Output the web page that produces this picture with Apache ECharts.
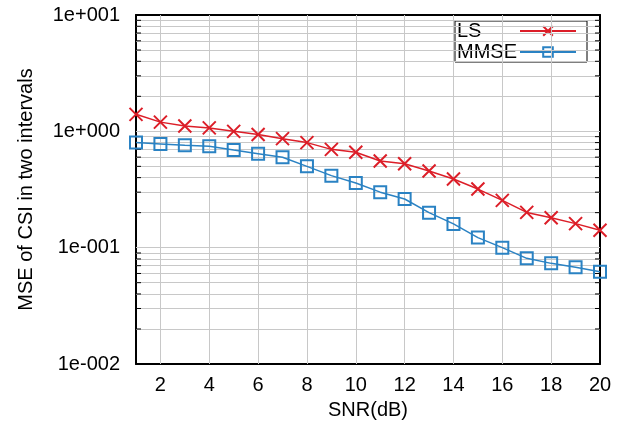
<!DOCTYPE html>
<html>
<head>
<meta charset="utf-8">
<script src="https://cdn.jsdelivr.net/npm/echarts@6/dist/echarts.min.js"></script>
<style>
  html, body { margin: 0; padding: 0; background: #fff; }
  #chart { width: 625px; height: 429px; }
</style>
</head>
<body>
<div id="chart"></div>
<script>
// SNR sweep (dB) and the MSE of the CSI estimate for each estimator
const snrDb = [1, 2, 3, 4, 5, 6, 7, 8, 9, 10, 11, 12, 13, 14, 15, 16, 17, 18, 19, 20];
const lsMse = [1.40, 1.20, 1.11, 1.07, 1.00, 0.94, 0.865, 0.80, 0.70, 0.66,
               0.556, 0.527, 0.456, 0.389, 0.319, 0.255, 0.201, 0.181, 0.161, 0.141];
const mmseMse = [0.80, 0.778, 0.758, 0.743, 0.69, 0.643, 0.598, 0.50, 0.416, 0.36,
                 0.30, 0.262, 0.20, 0.16, 0.122, 0.10, 0.081, 0.0733, 0.068, 0.0622];

// tick positions
const xTicks = [2, 4, 6, 8, 10, 12, 14, 16, 18, 20];
const yDecades = [0.01, 0.1, 1, 10];
const yMinor = [];
yDecades.slice(0, 3).forEach(d => {
  for (let m = 2; m <= 9; m++) yMinor.push(+(d * m).toPrecision(3));
});

const FONT = 'Liberation Sans';
const RED = '#dc1e28';
const BLUE = '#2a82c3';

const expLabel = v => {
  const e = Math.round(Math.log10(v));
  return '1e' + (e < 0 ? '-' : '+') + String(Math.abs(e)).padStart(3, '0');
};

const chart = echarts.init(document.getElementById('chart'), null, { renderer: 'canvas' });

// interior grid lines only; the frame itself is drawn by the axes
const gridLines = []
  .concat(xTicks.slice(0, -1).map(v => ({ xAxis: v })))
  .concat(yDecades.slice(1, -1).concat(yMinor).map(v => ({ yAxis: v })));

const frameLine = { onZero: false, lineStyle: { color: '#000', width: 2 } };

chart.setOption({
  animation: false,
  backgroundColor: '#fff',
  textStyle: { fontFamily: FONT },
  grid: { left: 136, right: 25, top: 15, bottom: 65, containLabel: false },
  legend: {
    data: ['LS', 'MMSE'],
    orient: 'vertical',
    right: 38,
    top: 21,
    align: 'right',
    itemWidth: 56,
    itemHeight: 12,
    itemGap: 1,
    padding: [0, 10, 0, 2],
    borderColor: '#000',
    borderWidth: 1,
    backgroundColor: '#fff',
    formatter: name => '{t|' + name + '}',
    textStyle: {
      fontFamily: FONT, fontSize: 20, color: '#000',
      rich: { t: { fontFamily: FONT, fontSize: 20, color: '#000', width: 58, align: 'left', lineHeight: 20 } }
    }
  },
  xAxis: [{
    type: 'value',
    min: 1,
    max: 20,
    name: 'SNR(dB)',
    nameLocation: 'middle',
    nameGap: 36,
    nameTextStyle: { fontFamily: FONT, fontSize: 20, color: '#000' },
    axisLine: frameLine,
    axisTick: { inside: true, length: 6, customValues: xTicks, lineStyle: { color: '#000' } },
    axisLabel: { customValues: xTicks, fontFamily: FONT, fontSize: 20, color: '#000', margin: 11 },
    splitLine: { show: false }
  }, {
    type: 'value',
    min: 1,
    max: 20,
    position: 'top',
    axisLine: frameLine,
    axisTick: { inside: true, length: 6, customValues: xTicks, lineStyle: { color: '#000' } },
    axisLabel: { show: false },
    splitLine: { show: false }
  }],
  yAxis: [{
    type: 'log',
    logBase: 10,
    min: 0.01,
    max: 10,
    name: 'MSE of CSI in two intervals',
    nameLocation: 'middle',
    nameGap: 100,
    nameTextStyle: { fontFamily: FONT, fontSize: 20, color: '#000' },
    axisLine: frameLine,
    axisTick: { inside: true, length: 8, lineStyle: { color: '#000' } },
    axisLabel: { fontFamily: FONT, fontSize: 20, color: '#000', margin: 16, formatter: expLabel },
    splitLine: { show: false }
  }, {
    type: 'log',
    logBase: 10,
    min: 0.01,
    max: 10,
    position: 'right',
    axisLine: frameLine,
    axisTick: { inside: true, length: 8, lineStyle: { color: '#000' } },
    axisLabel: { show: false },
    splitLine: { show: false }
  }],
  series: [
    {
      name: 'grid',
      type: 'line',
      data: [],
      silent: true,
      z: 0,
      markLine: {
        silent: true,
        symbol: ['none', 'none'],
        label: { show: false },
        lineStyle: { color: '#c8c8c8', width: 1, type: 'solid' },
        emphasis: { disabled: true },
        data: gridLines
      }
    },
    {
      // short minor ticks on the left and right frame edges
      name: 'minorTicks',
      type: 'custom',
      silent: true,
      z: 5,
      data: yMinor.map(v => [1, v]),
      renderItem: (params, api) => {
        const y = api.coord([1, api.value(1)])[1];
        const left = params.coordSys.x;
        const right = left + params.coordSys.width;
        return {
          type: 'group',
          children: [
            { type: 'line', shape: { x1: left, y1: y, x2: left + 5, y2: y }, style: { stroke: '#000', lineWidth: 1 } },
            { type: 'line', shape: { x1: right - 5, y1: y, x2: right, y2: y }, style: { stroke: '#000', lineWidth: 1 } }
          ]
        };
      }
    },
    {
      name: 'LS',
      type: 'line',
      data: snrDb.map((x, i) => [x, lsMse[i]]),
      symbol: 'path://M0,0L10,10M10,0L0,10',
      symbolSize: 13,
      showAllSymbol: true,
      clip: false,
      z: 10,
      lineStyle: { color: RED, width: 1.5 },
      itemStyle: { color: 'rgba(0,0,0,0)', borderColor: RED, borderWidth: 2 }
    },
    {
      name: 'MMSE',
      type: 'line',
      data: snrDb.map((x, i) => [x, mmseMse[i]]),
      symbol: 'rect',
      symbolSize: 12,
      showAllSymbol: true,
      clip: false,
      z: 10,
      lineStyle: { color: BLUE, width: 1.5 },
      itemStyle: { color: 'rgba(0,0,0,0)', borderColor: BLUE, borderWidth: 2 }
    }
  ]
});
</script>
</body>
</html>
